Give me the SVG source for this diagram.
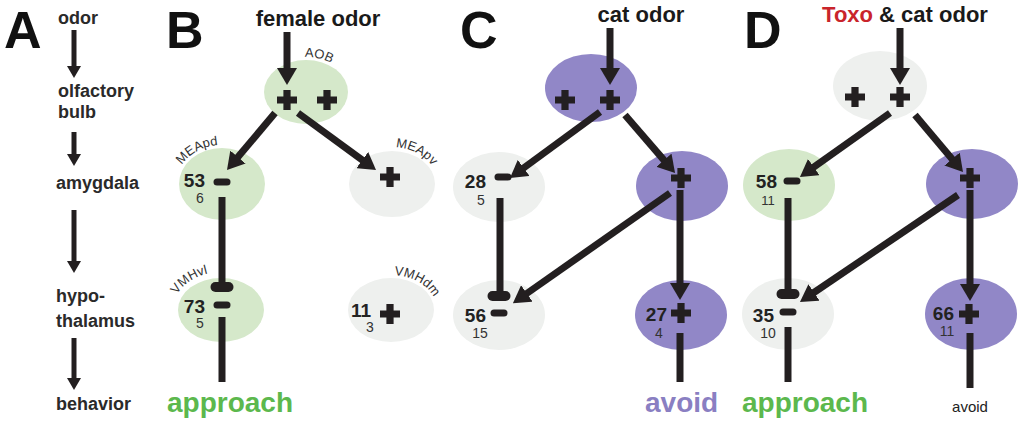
<svg xmlns="http://www.w3.org/2000/svg" xmlns:xlink="http://www.w3.org/1999/xlink" width="1024" height="424" viewBox="0 0 1024 424">
<style>
.panel{font-family:"Liberation Sans",Arial,sans-serif;font-weight:bold;font-size:52px;fill:#111}
.lvl{font-family:"Liberation Sans",Arial,sans-serif;font-weight:bold;font-size:18px;fill:#2a2a2a}
.odor{font-family:"Liberation Sans",Arial,sans-serif;font-weight:bold;font-size:22px;fill:#1a1a1a}
.big{font-family:"Liberation Sans",Arial,sans-serif;font-weight:bold;font-size:19px;fill:#222;text-anchor:end}
.small{font-family:"Liberation Sans",Arial,sans-serif;font-size:14px;fill:#333;text-anchor:middle}
.reg{font-family:"Liberation Sans",Arial,sans-serif;font-size:13px;fill:#333;text-anchor:middle}
.out{font-family:"Liberation Sans",Arial,sans-serif;font-weight:bold;font-size:28px}
.green{fill:#d5e8ca}
.gray{fill:#eef0ee}
.purple{fill:#9187c7}
.sh{stroke:#231f20;stroke-width:7;fill:none}
.shA{stroke:#231f20;stroke-width:5;fill:none}
</style>
<defs>
<marker id="ah" markerUnits="userSpaceOnUse" markerWidth="17" markerHeight="20" refX="1" refY="10" orient="auto">
<path d="M0,0 L17,10 L0,20 z" fill="#231f20"/>
</marker>
<marker id="ahA" markerUnits="userSpaceOnUse" markerWidth="12" markerHeight="14" refX="1" refY="7" orient="auto">
<path d="M0,0 L12,7 L0,14 z" fill="#231f20"/>
</marker>
<path id="plus" d="M-3.6,-10 h7.2 v6.4 h6.4 v7.2 h-6.4 v6.4 h-7.2 v-6.4 h-6.4 v-7.2 h6.4 z" fill="#231f20"/>
<rect id="minus" x="-8.5" y="-3.5" width="17" height="7" rx="3.5" fill="#231f20"/>
<rect id="tbar" x="-11.5" y="-5" width="23" height="10" rx="5" fill="#231f20"/>
<path id="pAOB" d="M261,92 A45,35 0 0 1 351,92"/>
<path id="pMEApd" d="M176,184 A46,39 0 0 1 268,184"/>
<path id="pMEApv" d="M346,184 A46,37 0 0 1 438,184"/>
<path id="pVMHvl" d="M173,310 A48,38 0 0 1 269,310"/>
<path id="pVMHdm" d="M345,310 A46,35 0 0 1 437,310"/>
</defs>

<!-- Panel labels -->
<text class="panel" x="4" y="48">A</text>
<text class="panel" x="166" y="48">B</text>
<text class="panel" x="460" y="48">C</text>
<text class="panel" x="744" y="48">D</text>

<!-- Panel A levels -->
<g id="levels">
<text class="lvl" x="58" y="24">odor</text>
<text class="lvl" x="58" y="97">olfactory</text>
<text class="lvl" x="58" y="118">bulb</text>
<text class="lvl" x="56" y="189">amygdala</text>
<text class="lvl" x="56" y="302">hypo-</text>
<text class="lvl" x="56" y="327">thalamus</text>
<text class="lvl" x="56" y="410">behavior</text>
</g>

<!-- Stimuli -->
<text class="odor" x="318" y="26" text-anchor="middle">female odor</text>
<text class="odor" x="641" y="22" text-anchor="middle">cat odor</text>
<text class="odor" x="905" y="22" text-anchor="middle"><tspan fill="#c9242b">Toxo</tspan> &amp; cat odor</text>

<!-- Nodes panel B -->
<g id="B-AOB">
<ellipse class="green" cx="306" cy="92" rx="42" ry="32"/>
<text class="reg"><textPath href="#pAOB" startOffset="60%">AOB</textPath></text>
<use href="#plus" x="287" y="100"/>
<use href="#plus" x="327" y="100"/>
</g>
<g id="B-MEApd">
<ellipse class="green" cx="222" cy="184" rx="43" ry="36"/>
<text class="reg"><textPath href="#pMEApd" startOffset="31%">MEApd</textPath></text>
<text class="big" x="205" y="187">53</text>
<text class="small" x="200" y="203">6</text>
<use href="#minus" x="222" y="182"/>
</g>
<g id="B-MEApv">
<ellipse class="gray" cx="392" cy="184" rx="43" ry="33"/>
<text class="reg"><textPath href="#pMEApv" startOffset="69%">MEApv</textPath></text>
<use href="#plus" x="390" y="177"/>
</g>
<g id="B-VMHvl">
<ellipse class="green" cx="221" cy="310" rx="43" ry="32"/>
<text class="reg"><textPath href="#pVMHvl" startOffset="26%">VMHvl</textPath></text>
<text class="big" x="205" y="313">73</text>
<text class="small" x="200" y="328">5</text>
<use href="#minus" x="222" y="305"/>
</g>
<g id="B-VMHdm">
<ellipse class="gray" cx="391" cy="310" rx="43" ry="32"/>
<text class="reg"><textPath href="#pVMHdm" startOffset="71%">VMHdm</textPath></text>
<text class="big" x="371" y="317">11</text>
<text class="small" x="370" y="332">3</text>
<use href="#plus" x="390" y="314"/>
</g>
<g id="B-approach">
<text class="out" x="167" y="412" fill="#5cb84d">approach</text>
</g>

<!-- Nodes panel C -->
<g id="C-AOB">
<ellipse class="purple" cx="591" cy="88" rx="46" ry="34"/>
<use href="#plus" x="565" y="100"/>
<use href="#plus" x="610" y="100"/>
</g>
<g id="C-MEApd">
<ellipse class="gray" cx="499" cy="187" rx="46" ry="35"/>
<text class="big" x="486" y="188">28</text>
<text class="small" x="481" y="205">5</text>
<use href="#minus" x="503" y="177"/>
</g>
<g id="C-MEApv">
<ellipse class="purple" cx="682" cy="186" rx="46" ry="35"/>
<use href="#plus" x="681" y="178"/>
</g>
<g id="C-VMHvl">
<ellipse class="gray" cx="499" cy="315" rx="46" ry="35"/>
<text class="big" x="486" y="322">56</text>
<text class="small" x="480" y="338">15</text>
<use href="#minus" x="499" y="313"/>
</g>
<g id="C-VMHdm">
<ellipse class="purple" cx="681" cy="315" rx="46" ry="35"/>
<text class="big" x="667" y="321">27</text>
<text class="small" x="659" y="338">4</text>
<use href="#plus" x="681" y="313"/>
</g>
<g id="C-avoid">
<text class="out" x="645" y="412" fill="#8a7fc2">avoid</text>
</g>

<!-- Nodes panel D -->
<g id="D-AOB">
<ellipse class="gray" cx="880" cy="86" rx="47" ry="35"/>
<use href="#plus" x="855" y="97"/>
<use href="#plus" x="900" y="97"/>
</g>
<g id="D-MEApd">
<ellipse class="green" cx="789" cy="185" rx="46" ry="36"/>
<text class="big" x="777" y="188">58</text>
<text class="small" x="768" y="205" style="font-size:13px">11</text>
<use href="#minus" x="792" y="181"/>
</g>
<g id="D-MEApv">
<ellipse class="purple" cx="972" cy="184" rx="46" ry="35"/>
<use href="#plus" x="970" y="178"/>
</g>
<g id="D-VMHvl">
<ellipse class="gray" cx="788" cy="314" rx="46" ry="36"/>
<text class="big" x="774" y="322">35</text>
<text class="small" x="768" y="338">10</text>
<use href="#minus" x="788" y="312"/>
</g>
<g id="D-VMHdm">
<ellipse class="purple" cx="971" cy="314" rx="46" ry="36"/>
<text class="big" x="954" y="320">66</text>
<text class="small" x="947" y="336">11</text>
<use href="#plus" x="969" y="314"/>
</g>
<g id="D-out">
<text class="out" x="742" y="412" fill="#5cb84d">approach</text>
<text x="970" y="412" text-anchor="middle" style="font-family:'Liberation Sans',Arial,sans-serif;font-size:15px;fill:#222">avoid</text>
</g>

<!-- Connectors -->
<g id="connectors">
<!-- panel A -->
<line class="shA" x1="74" y1="30" x2="74" y2="67" marker-end="url(#ahA)"/>
<line class="shA" x1="74" y1="132" x2="74" y2="155" marker-end="url(#ahA)"/>
<line class="shA" x1="74" y1="210" x2="74" y2="262" marker-end="url(#ahA)"/>
<line class="shA" x1="74" y1="338" x2="74" y2="379" marker-end="url(#ahA)"/>
<!-- panel B -->
<line class="sh" x1="287" y1="32" x2="287" y2="69" marker-end="url(#ah)"/>
<line class="sh" x1="275" y1="113" x2="237.3" y2="157.8" marker-end="url(#ah)"/>
<line class="sh" x1="298" y1="113" x2="363.1" y2="160.6" marker-end="url(#ah)"/>
<line class="sh" x1="222" y1="197" x2="222" y2="286"/>
<use href="#tbar" x="222" y="287"/>
<line class="sh" x1="222" y1="317" x2="222" y2="382"/>
<!-- panel C -->
<line class="sh" x1="610" y1="28" x2="610" y2="69" marker-end="url(#ah)"/>
<line class="sh" x1="600" y1="112" x2="522.9" y2="168.5" marker-end="url(#ah)"/>
<line class="sh" x1="625" y1="115" x2="664.6" y2="160.9" marker-end="url(#ah)"/>
<line class="sh" x1="670" y1="193" x2="526" y2="294" marker-end="url(#ah)"/>
<line class="sh" x1="680" y1="190" x2="680" y2="284" marker-end="url(#ah)"/>
<line class="sh" x1="500" y1="198" x2="500" y2="295"/>
<use href="#tbar" x="499" y="296"/>
<line class="sh" x1="680" y1="333" x2="680" y2="382"/>
<!-- panel D -->
<line class="sh" x1="900" y1="28" x2="900" y2="69" marker-end="url(#ah)"/>
<line class="sh" x1="890" y1="113" x2="813" y2="167.7" marker-end="url(#ah)"/>
<line class="sh" x1="915" y1="115" x2="952.7" y2="159.8" marker-end="url(#ah)"/>
<line class="sh" x1="958" y1="195" x2="813.2" y2="293" marker-end="url(#ah)"/>
<line class="sh" x1="970" y1="190" x2="970" y2="285" marker-end="url(#ah)"/>
<line class="sh" x1="788" y1="198" x2="788" y2="293"/>
<use href="#tbar" x="788" y="294"/>
<line class="sh" x1="788" y1="327" x2="788" y2="382"/>
<line class="sh" x1="970" y1="333" x2="970" y2="388"/>
</g>
</svg>
